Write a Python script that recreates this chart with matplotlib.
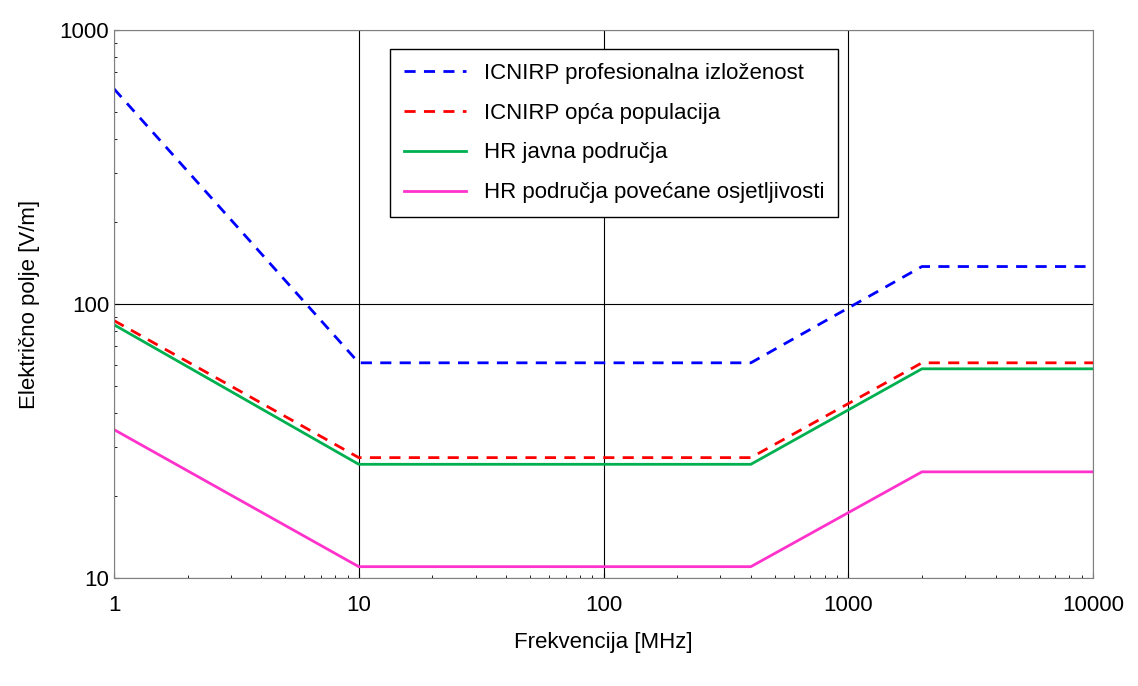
import matplotlib
matplotlib.use("Agg")
import matplotlib.pyplot as plt

plt.rcParams['font.family'] = 'Liberation Sans'

freq = [1, 10, 400, 2000, 10000]
icnirp_prof = [610, 61, 61, 137, 137]
icnirp_opca = [87, 27.5, 27.5, 61, 61]
hr_javna = [84, 26, 26, 58, 58]
hr_osjetljiva = [34.8, 11, 11, 24.4, 24.4]

fig = plt.figure(figsize=(11.38, 6.86), dpi=100)
ax = fig.add_axes([114/1138, 1-578/686, (1093-114)/1138, (578-30)/686])
ax.plot(freq, icnirp_prof, color='#0000ff', ls=(0, (4, 3)), lw=2, label='ICNIRP profesionalna izloženost')
ax.plot(freq, icnirp_opca, color='#ff0000', ls=(0, (4, 3)), lw=2, label='ICNIRP opća populacija')
ax.plot(freq, hr_javna, color='#00b050', lw=2, label='HR javna područja')
ax.plot(freq, hr_osjetljiva, color='#ff33cc', lw=2, label='HR područja povećane osjetljivosti')
ax.set_xscale('log'); ax.set_yscale('log')
ax.set_xlim(1, 10000); ax.set_ylim(10, 1000)
ax.grid(True, which='major', color='black', lw=0.8)
ax.set_xticks([1, 10, 100, 1000, 10000]); ax.set_xticklabels(['1', '10', '100', '1000', '10000'])
ax.set_yticks([10, 100, 1000]); ax.set_yticklabels(['10', '100', '1000'])
ax.tick_params(which='both', direction='in', labelsize=16)
ax.tick_params(axis='x', pad=12)
for s in ax.spines.values():
    s.set_color('#808080')
ax.set_xlabel('Frekvencija [MHz]', fontsize=16, labelpad=12)
ax.set_ylabel('Električno polje [V/m]', fontsize=16, labelpad=14)
leg = ax.legend(loc='upper left', bbox_to_anchor=(0.271, 0.985), fontsize=16, fancybox=False,
                framealpha=1, edgecolor='black', handlelength=2.8, labelspacing=0.85,
                borderpad=0.6)
fig.savefig('out.png', dpi=100)
